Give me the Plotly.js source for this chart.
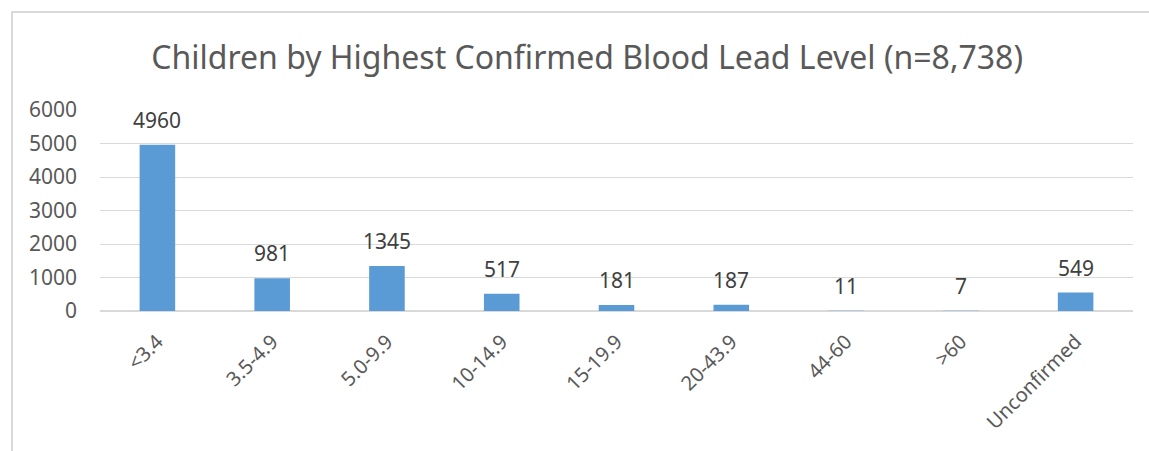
<!DOCTYPE html>
<html>
<head>
<meta charset="utf-8">
<script src="https://cdn.plot.ly/plotly-3.0.1.min.js"></script>
<style>
  html, body { margin: 0; padding: 0; background: #fff; }
  #wrap { position: relative; width: 1149px; height: 451px; }
  #chart { width: 1149px; height: 451px; }
  #frame { position: absolute; left: 11px; top: 11px; right: -5px; bottom: -5px;
           border-left: 2px solid #D9D9D9; border-top: 2px solid #D9D9D9; pointer-events: none; }
</style>
</head>
<body>
<div id="wrap">
  <div id="chart"></div>
  <div id="frame"></div>
</div>
<script>
const categories = ["<3.4", "3.5-4.9", "5.0-9.9", "10-14.9", "15-19.9", "20-43.9", "44-60", ">60", "Unconfirmed"];
const counts = [4960, 981, 1345, 517, 181, 187, 11, 7, 549];
const yTicks = [0, 1000, 2000, 3000, 4000, 5000, 6000];
const chartTitle = "Children by Highest Confirmed Blood Lead Level (n=8,738)";

const font = "Noto Sans, Open Sans, sans-serif";

const trace = {
  type: "bar",
  x: categories,
  y: counts,
  marker: { color: "#5B9BD5" },
  hoverinfo: "x+y"
};

const annotations = categories.map((c, i) => ({
  x: c, y: counts[i], xref: "x", yref: "y",
  text: String(counts[i]), showarrow: false,
  yanchor: "middle", yshift: 25,
  font: { family: font, size: 21, color: "#404040" }
}));

const layout = {
  width: 1149, height: 451,
  margin: { l: 100, r: 16, t: 110, b: 140 },
  paper_bgcolor: "#ffffff", plot_bgcolor: "#ffffff",
  bargap: 0.69,
  showlegend: false,
  title: {
    text: chartTitle,
    x: 0.511, xref: "container", xanchor: "center",
    y: 1 - 58/451, yref: "container", yanchor: "middle",
    font: { family: font, size: 32, color: "#595959" }
  },
  xaxis: {
    type: "category",
    tickangle: -45,
    showgrid: false,
    showline: false,
    zeroline: false,
    ticks: "",
    ticklabelstandoff: 14,
    tickfont: { family: font, size: 20, color: "#595959" },
    fixedrange: true
  },
  yaxis: {
    range: [0, 6000],
    tickvals: yTicks,
    ticktext: yTicks.map(String),
    showgrid: true, gridcolor: "#D9D9D9", gridwidth: 1,
    zeroline: true, zerolinecolor: "#D9D9D9", zerolinewidth: 2,
    showline: false, ticks: "",
    ticklabelstandoff: 22,
    tickfont: { family: font, size: 21, color: "#595959" },
    fixedrange: true
  },
  annotations: annotations
};

Plotly.newPlot("chart", [trace], layout, { displayModeBar: false, staticPlot: true });
</script>
</body>
</html>
